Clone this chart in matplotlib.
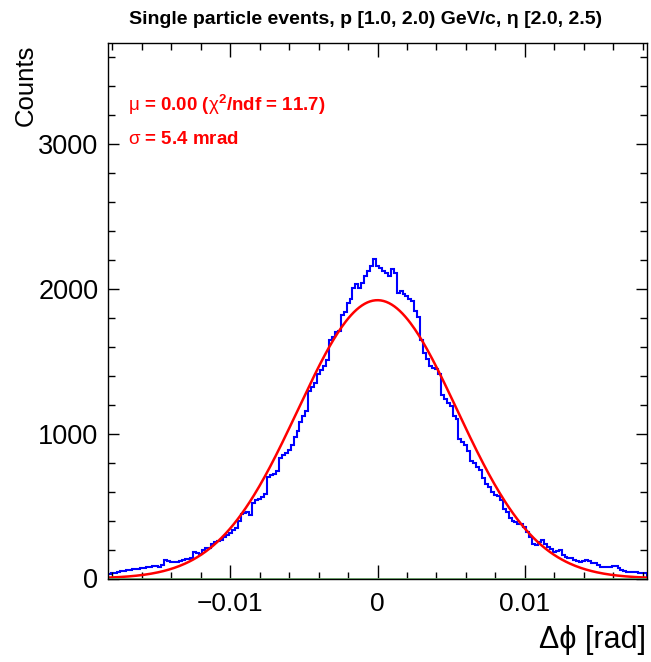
import matplotlib
matplotlib.use("Agg")
import matplotlib.pyplot as plt
import numpy as np
from matplotlib.ticker import MultipleLocator

plt.rcParams['font.family'] = ['Liberation Sans', 'DejaVu Sans']
plt.rcParams['mathtext.fontset'] = 'custom'
plt.rcParams['mathtext.rm'] = 'Liberation Sans'
plt.rcParams['mathtext.bf'] = 'Liberation Sans:bold'

# histogram range (rad) and bin contents
x_lo, x_hi = -0.0183, 0.0183
counts_left = [
    32, 35, 38, 45, 52, 55, 58, 60, 63, 64,
    66, 70, 72, 80, 82, 86, 84, 77, 90, 125,
    124, 116, 112, 114, 124, 128, 134, 136, 140, 182,
    178, 172, 200, 208, 212, 240, 255, 262, 268, 284,
    300, 312, 332, 350, 400, 445, 452, 458, 436, 520,
    540, 552, 562, 585, 700, 712, 722, 742, 835, 850,
    865, 888, 925, 975, 1020, 1078, 1125, 1160, 1295, 1320,
    1352, 1410, 1440, 1470, 1510, 1650, 1668, 1700, 1712, 1820,
    1840, 1905, 1930, 2005, 2032, 2010, 2045, 2090, 2125, 2160,
    2205,
]
counts_right = [
    2160, 2148, 2125, 2113, 2090, 2140, 2113, 1975, 1988, 1964,
    1952, 1930, 1918, 1850, 1810, 1645, 1560, 1516, 1470, 1455,
    1445, 1413, 1265, 1241, 1210, 1195, 1126, 1103, 966, 945,
    920, 880, 810, 800, 770, 747, 695, 650, 630, 598,
    580, 572, 540, 480, 460, 415, 400, 391, 380, 376,
    357, 320, 288, 240, 231, 253, 265, 240, 219, 205,
    185, 190, 196, 165, 150, 142, 139, 127, 124, 116,
    118, 127, 120, 110, 105, 95, 81, 80, 77, 78,
    86, 84, 70, 62, 50, 47, 47, 46, 42, 40,
    40, 40,
]
counts = np.array(counts_left + counts_right)

# gaussian fit result
fit_amp = 1923
fit_mu = 0.0
fit_sigma = 0.0054
bkg_level = 0.0

xticks = [-0.01, 0.0, 0.01]
xticklabels = ["\u22120.01", "0", "0.01"]
yticks = [0, 1000, 2000, 3000]
y_max = 3700

title = "Single particle events, p [1.0, 2.0) GeV/c, \u03b7 [2.0, 2.5)"
line1 = r"$\mathrm{\mu}$ = 0.00 ($\mathrm{\chi}^{\mathbf{2}}$/ndf = 11.7)"
line2 = r"$\mathrm{\sigma}$ = 5.4 mrad"

edges = np.linspace(x_lo, x_hi, len(counts) + 1)

fig = plt.figure(figsize=(6.51, 6.62), dpi=100)
ax = fig.add_axes([108 / 651, 83.5 / 662, 539 / 651, 535.5 / 662])

ax.stairs(counts, edges, color="#0000ff", linewidth=1.5)
xf = np.linspace(x_lo, x_hi, 400)
ax.plot(xf, fit_amp * np.exp(-0.5 * ((xf - fit_mu) / fit_sigma) ** 2),
        color="#ff0000", linewidth=1.8)
ax.axhline(bkg_level, color="#77bb77", linewidth=2)

ax.set_xlim(x_lo, x_hi)
ax.set_ylim(0, y_max)
ax.set_xticks(xticks)
ax.set_xticklabels(xticklabels)
ax.set_yticks(yticks)
ax.xaxis.set_minor_locator(MultipleLocator(0.002))
ax.yaxis.set_minor_locator(MultipleLocator(200))
ax.tick_params(axis="x", which="major", direction="in", length=10, width=1,
               top=True, labelsize=19, pad=10)
ax.tick_params(axis="x", which="minor", direction="in", length=5, width=1, top=True)
ax.tick_params(axis="y", which="major", direction="in", length=8, width=1,
               right=True, labelsize=19.5, pad=7)
ax.tick_params(axis="y", which="minor", direction="in", length=5, width=1, right=True)
for s in ax.spines.values():
    s.set_linewidth(1)

fig.text(366 / 651, 1 - 19 / 662, title, ha="center", va="center",
         fontsize=14, fontweight="bold")
fig.text(26 / 651, 1 - 45 / 662, "Counts", rotation=90, ha="center", va="top",
         fontsize=18.5)
fig.text(646 / 651, 1 - 640 / 662, "\u0394\u03d5 [rad]", ha="right", va="center",
         fontsize=22)
ax.text(128 / 651, 1 - 105 / 662, line1, transform=fig.transFigure, ha="left",
        va="center", fontsize=13.5, fontweight="bold", color="#ff0000")
ax.text(128 / 651, 1 - 140 / 662, line2, transform=fig.transFigure, ha="left",
        va="center", fontsize=13.5, fontweight="bold", color="#ff0000")

fig.savefig("out.png", dpi=100)
